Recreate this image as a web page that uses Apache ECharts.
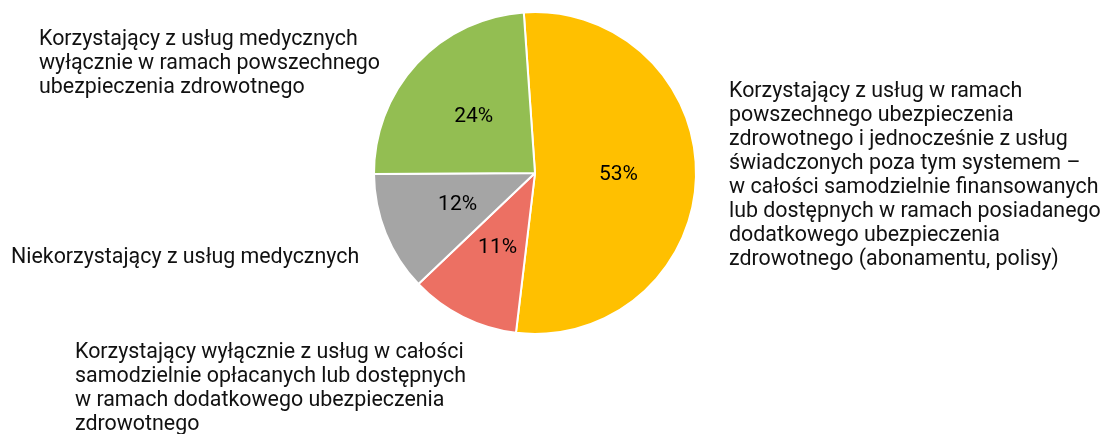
<!DOCTYPE html>
<html>
<head>
<meta charset="utf-8">
<script src="https://cdn.jsdelivr.net/npm/echarts@6/dist/echarts.min.js"></script>
<style>
  html, body { margin: 0; padding: 0; background: #fff; }
  #chart { width: 1102px; height: 434px; }
</style>
</head>
<body>
<div id="chart"></div>
<script>
// kategorie (z podziałem na wiersze jak na wykresie)
var categories = [
  'Korzystający z usług w ramach\npowszechnego ubezpieczenia\nzdrowotnego i jednocześnie z usług\nświadczonych poza tym systemem –\nw całości samodzielnie finansowanych\nlub dostępnych w ramach posiadanego\ndodatkowego ubezpieczenia\nzdrowotnego (abonamentu, polisy)',
  'Korzystający wyłącznie z usług w całości\nsamodzielnie opłacanych lub dostępnych\nw ramach dodatkowego ubezpieczenia\nzdrowotnego',
  'Niekorzystający z usług medycznych',
  'Korzystający z usług medycznych\nwyłącznie w ramach powszechnego\nubezpieczenia zdrowotnego'
];
var values = [53, 11, 12, 24];
var colors = ['#FFC000', '#EC7063', '#A5A5A5', '#93BE52'];

// pozycje opisów kategorii
var labelPos = [[729, 80], [75, 341], [11, 246], [39, 28]];

var chart = echarts.init(document.getElementById('chart'));

var font = '21.4px Roboto';

chart.setOption({
  animation: false,
  series: [{
    type: 'pie',
    center: [535, 173],
    radius: [0, 161],
    startAngle: 94,
    clockwise: true,
    data: values.map(function (v, i) {
      return { value: v, name: categories[i], itemStyle: { color: colors[i] } };
    }),
    itemStyle: { borderColor: '#fff', borderWidth: 2 },
    label: {
      show: true,
      position: 'inner',
      formatter: '{c}%',
      color: '#000',
      fontFamily: 'Roboto',
      fontSize: 21
    },
    labelLine: { show: false },
    emphasis: { disabled: true }
  }],
  graphic: categories.map(function (name, i) {
    return {
      type: 'text',
      x: labelPos[i][0],
      y: labelPos[i][1],
      style: {
        text: name,
        font: font,
        fill: '#111',
        lineHeight: 24,
        textVerticalAlign: 'top'
      }
    };
  })
});
</script>
</body>
</html>
